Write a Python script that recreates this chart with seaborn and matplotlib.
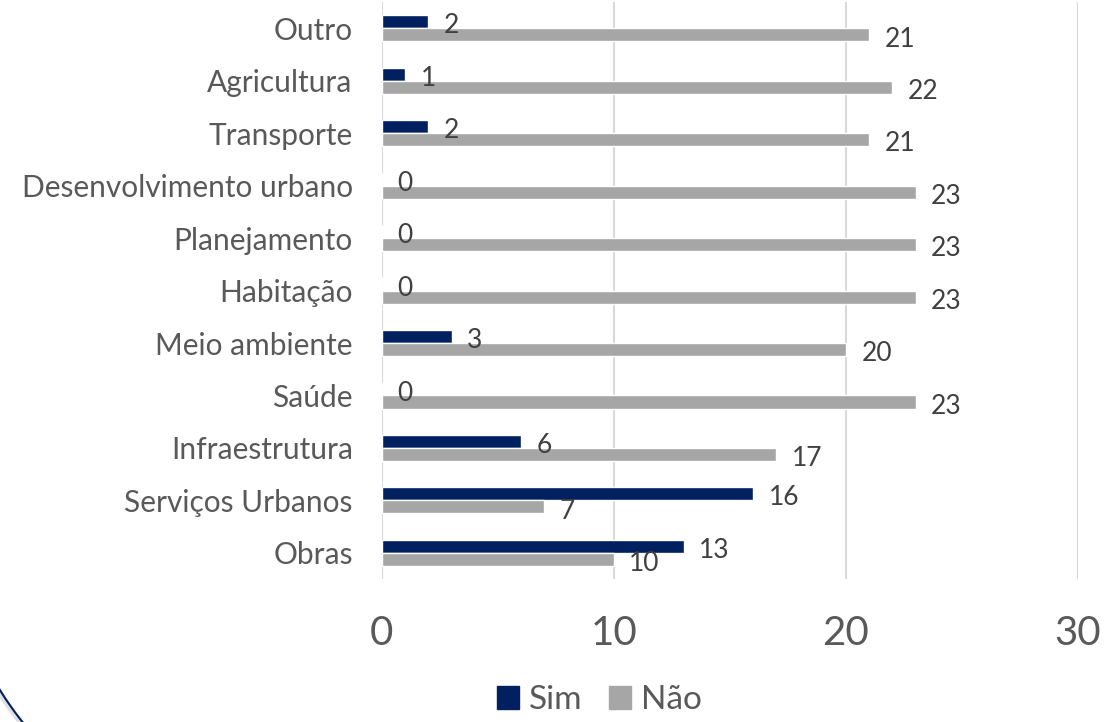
import matplotlib
matplotlib.use("Agg")
import matplotlib.pyplot as plt
from matplotlib.patches import Arc
import seaborn as sns
import pandas as pd

# data, top to bottom
categorias = ["Outro", "Agricultura", "Transporte", "Desenvolvimento urbano",
              "Planejamento", "Habitação", "Meio ambiente", "Saúde",
              "Infraestrutura", "Serviços Urbanos", "Obras"]
sim = [2, 1, 2, 0, 0, 0, 3, 0, 6, 16, 13]
nao = [21, 22, 21, 23, 23, 23, 20, 23, 17, 7, 10]
series = ["Sim", "Não"]
cores = {"Sim": "#002060", "Não": "#A6A6A6"}

df = pd.DataFrame({
    "categoria": categorias * 2,
    "valor": sim + nao,
    "resposta": ["Sim"] * len(sim) + ["Não"] * len(nao),
})

sns.set_style("white")
plt.rcParams["font.family"] = ["Lato", "DejaVu Sans"]

fig = plt.figure(figsize=(11.2, 7.22), dpi=100)
ax = fig.add_axes([0.341, 0.198, 0.6215, 0.799])

sns.barplot(data=df, x="valor", y="categoria", hue="resposta", order=categorias,
            hue_order=series, palette=cores, orient="h", width=0.5,
            saturation=1, ax=ax, legend=False)

ax.set_xlim(0, 30)
ax.set_xticks([0, 10, 20, 30])
ax.set_xlabel("")
ax.set_ylabel("")
ax.grid(axis="x", color="#D9D9D9", linewidth=1.5)
ax.set_axisbelow(True)
for s in ax.spines.values():
    s.set_visible(False)
ax.tick_params(axis="y", labelsize=21.5, labelcolor="#595959", length=0, pad=21)
ax.tick_params(axis="x", labelsize=29, labelcolor="#595959", length=0, pad=26)

# value labels
for cont in ax.containers:
    for bar in cont:
        w = bar.get_width()
        yc = bar.get_y() + bar.get_height() / 2
        ax.annotate(f"{int(w)}", (w, yc), xytext=(11, -3), textcoords="offset points",
                    ha="left", va="center", fontsize=19, color="#404040")

# legend
handles = [plt.Rectangle((0, 0), 1, 1, color=cores[s]) for s in series]
fig.legend(handles, series, loc="lower center", bbox_to_anchor=(0.535, -0.032), ncol=2,
           frameon=False, fontsize=24, handlelength=0.65, handleheight=0.65,
           handletextpad=0.3, columnspacing=0.8, labelcolor="#595959")

# decorative arc at the lower left corner
fig.add_artist(Arc((3.30, 2.42), 7.86, 7.86, theta1=205, theta2=225,
                   transform=fig.dpi_scale_trans, color="#E0E0E0", linewidth=4))
fig.add_artist(Arc((3.32, 2.42), 7.86, 7.86, theta1=205, theta2=225,
                   transform=fig.dpi_scale_trans, color="#002060", linewidth=1.5))

fig.savefig("out.png", dpi=100)
